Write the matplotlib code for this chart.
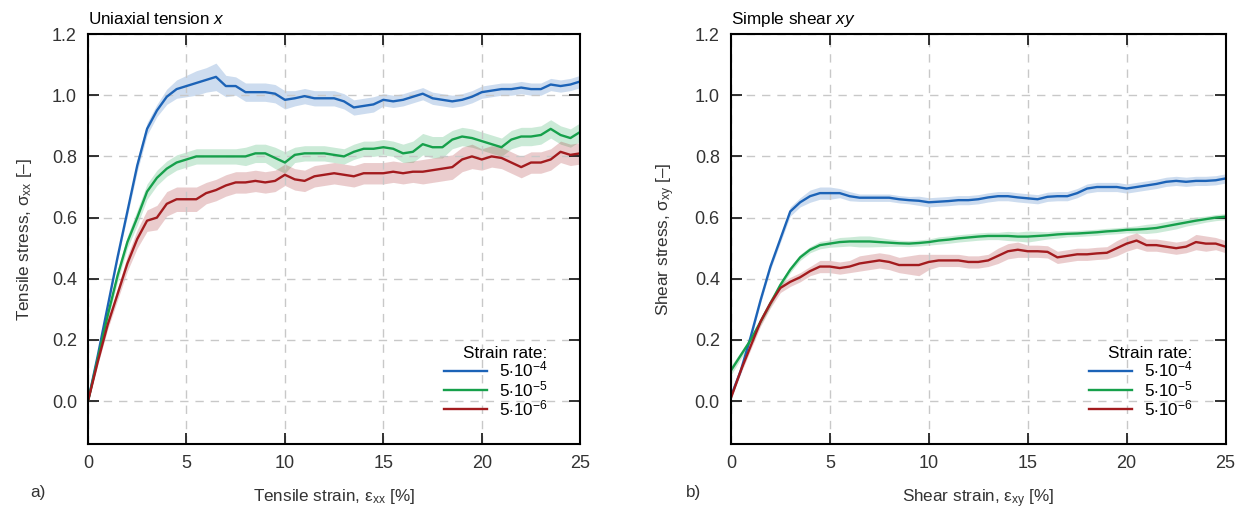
import matplotlib
matplotlib.use('Agg')
import matplotlib.pyplot as plt
import numpy as np

plt.rcParams['font.family'] = ['Liberation Sans', 'DejaVu Sans']
plt.rcParams['mathtext.fontset'] = 'custom'
plt.rcParams['mathtext.rm'] = 'Liberation Sans'
plt.rcParams['mathtext.it'] = 'Liberation Sans:italic'
plt.rcParams['font.size'] = 12.3

# Strain grid [%]
strain = np.arange(0, 25.5, 0.5)

rates = ['5$\\cdot$10$^{\\mathregular{-4}}$', '5$\\cdot$10$^{\\mathregular{-5}}$',
         '5$\\cdot$10$^{\\mathregular{-6}}$']

# Uniaxial tension x (mean curves)
ten_4 = [0, 0.15, 0.31, 0.47, 0.62, 0.77, 0.89, 0.95, 0.995, 1.02, 1.03, 1.04, 1.05,
         1.06, 1.03, 1.03, 1.01, 1.01, 1.01, 1.005, 0.985, 0.99, 0.997, 0.99, 0.99,
         0.99, 0.98, 0.96, 0.965, 0.97, 0.985, 0.98, 0.985, 0.995, 1.005, 0.99, 0.985,
         0.98, 0.985, 0.995, 1.01, 1.015, 1.02, 1.02, 1.025, 1.02, 1.02, 1.035, 1.03,
         1.035, 1.045]
ten_5 = [0, 0.14, 0.28, 0.41, 0.52, 0.6, 0.685, 0.73, 0.76, 0.78, 0.79, 0.8, 0.8,
         0.8, 0.8, 0.8, 0.8, 0.81, 0.81, 0.795, 0.78, 0.805, 0.81, 0.81, 0.81, 0.805,
         0.8, 0.815, 0.825, 0.825, 0.83, 0.825, 0.81, 0.815, 0.84, 0.83, 0.83, 0.855,
         0.865, 0.86, 0.85, 0.84, 0.83, 0.855, 0.865, 0.865, 0.87, 0.89, 0.87, 0.86,
         0.88]
ten_6 = [0, 0.13, 0.25, 0.35, 0.45, 0.53, 0.59, 0.6, 0.645, 0.66, 0.66, 0.66, 0.68,
         0.69, 0.705, 0.715, 0.715, 0.72, 0.715, 0.72, 0.74, 0.725, 0.72, 0.735, 0.74,
         0.745, 0.74, 0.735, 0.745, 0.745, 0.745, 0.75, 0.745, 0.75, 0.75, 0.755, 0.76,
         0.765, 0.79, 0.8, 0.79, 0.8, 0.795, 0.78, 0.765, 0.78, 0.78, 0.79, 0.815,
         0.805, 0.81]

# Uniaxial tension x (band half-widths)
ten_4_sd = [0.005, 0.01, 0.01, 0.01, 0.015, 0.02, 0.02, 0.02, 0.025, 0.03, 0.035,
            0.04, 0.04, 0.045, 0.035, 0.03, 0.03, 0.03, 0.03, 0.03, 0.03, 0.025, 0.025,
            0.025, 0.025, 0.025, 0.025, 0.025, 0.025, 0.025, 0.02, 0.02, 0.02, 0.02,
            0.02, 0.02, 0.02, 0.02, 0.02, 0.02, 0.02, 0.02, 0.02, 0.02, 0.02, 0.02,
            0.02, 0.02, 0.02, 0.02, 0.02]
ten_5_sd = [0.005, 0.01, 0.015, 0.02, 0.02, 0.025, 0.025, 0.025, 0.025, 0.025, 0.025,
            0.025, 0.025, 0.025, 0.025, 0.025, 0.03, 0.03, 0.03, 0.035, 0.035, 0.025,
            0.025, 0.025, 0.025, 0.025, 0.025, 0.025, 0.025, 0.025, 0.025, 0.025, 0.03,
            0.035, 0.035, 0.035, 0.035, 0.03, 0.03, 0.03, 0.03, 0.03, 0.03, 0.03, 0.03,
            0.03, 0.03, 0.03, 0.03, 0.03, 0.03]
ten_6_sd = [0.005, 0.01, 0.015, 0.02, 0.025, 0.03, 0.035, 0.04, 0.04, 0.04, 0.04, 0.04,
            0.035, 0.035, 0.035, 0.035, 0.035, 0.035, 0.035, 0.035, 0.035, 0.035, 0.035,
            0.035, 0.035, 0.035, 0.035, 0.035, 0.035, 0.035, 0.035, 0.035, 0.035, 0.035,
            0.04, 0.04, 0.04, 0.04, 0.04, 0.04, 0.035, 0.035, 0.035, 0.035, 0.035, 0.035,
            0.035, 0.035, 0.035, 0.035, 0.035]

# Simple shear xy (mean curves)
shr_4 = [0.015, 0.1, 0.21, 0.33, 0.44, 0.53, 0.62, 0.65, 0.67, 0.68, 0.68, 0.68, 0.67,
         0.665, 0.665, 0.665, 0.665, 0.66, 0.657, 0.655, 0.65, 0.652, 0.654, 0.657,
         0.657, 0.66, 0.666, 0.67, 0.67, 0.666, 0.663, 0.66, 0.668, 0.67, 0.67, 0.68,
         0.695, 0.7, 0.7, 0.7, 0.695, 0.7, 0.705, 0.71, 0.717, 0.72, 0.717, 0.72, 0.72,
         0.722, 0.728]
shr_5 = [0.1, 0.15, 0.2, 0.26, 0.32, 0.38, 0.43, 0.47, 0.495, 0.51, 0.515, 0.52, 0.522,
         0.522, 0.522, 0.52, 0.518, 0.516, 0.515, 0.517, 0.52, 0.525, 0.528, 0.532,
         0.535, 0.538, 0.54, 0.54, 0.54, 0.538, 0.538, 0.54, 0.542, 0.545, 0.547, 0.548,
         0.55, 0.552, 0.555, 0.557, 0.56, 0.561, 0.563, 0.566, 0.572, 0.578, 0.584,
         0.59, 0.595, 0.6, 0.603]
shr_6 = [0.01, 0.1, 0.18, 0.26, 0.32, 0.37, 0.39, 0.405, 0.425, 0.44, 0.44, 0.435, 0.44,
         0.45, 0.455, 0.46, 0.455, 0.445, 0.445, 0.445, 0.455, 0.46, 0.46, 0.46, 0.455,
         0.455, 0.46, 0.475, 0.49, 0.495, 0.49, 0.49, 0.488, 0.47, 0.475, 0.48, 0.48,
         0.483, 0.485, 0.5, 0.515, 0.525, 0.51, 0.51, 0.505, 0.5, 0.505, 0.52, 0.515,
         0.515, 0.505]

# Simple shear xy (band half-widths)
shr_4_sd = [0.005, 0.008, 0.01, 0.01, 0.01, 0.012, 0.015, 0.015, 0.02, 0.02, 0.02,
            0.015, 0.015, 0.012, 0.012, 0.012, 0.012, 0.012, 0.012, 0.015, 0.015, 0.015,
            0.015, 0.015, 0.015, 0.015, 0.015, 0.015, 0.015, 0.015, 0.015, 0.015, 0.015,
            0.015, 0.015, 0.015, 0.015, 0.015, 0.015, 0.015, 0.015, 0.015, 0.015, 0.015,
            0.015, 0.015, 0.015, 0.015, 0.015, 0.015, 0.015]
shr_5_sd = [0.015, 0.012, 0.01, 0.01, 0.01, 0.01, 0.01, 0.01, 0.01, 0.012, 0.012, 0.015,
            0.015, 0.018, 0.018, 0.015, 0.012, 0.01, 0.01, 0.01, 0.01, 0.012, 0.012,
            0.012, 0.012, 0.012, 0.012, 0.012, 0.015, 0.015, 0.018, 0.015, 0.012, 0.012,
            0.01, 0.01, 0.01, 0.01, 0.01, 0.01, 0.01, 0.012, 0.015, 0.015, 0.015, 0.015,
            0.012, 0.012, 0.01, 0.01, 0.01]
shr_6_sd = [0.005, 0.01, 0.012, 0.015, 0.015, 0.015, 0.015, 0.015, 0.015, 0.02, 0.02,
            0.02, 0.02, 0.025, 0.025, 0.025, 0.025, 0.025, 0.03, 0.035, 0.025, 0.02, 0.02,
            0.02, 0.02, 0.02, 0.02, 0.025, 0.025, 0.025, 0.02, 0.02, 0.02, 0.02, 0.02,
            0.02, 0.02, 0.02, 0.02, 0.025, 0.025, 0.025, 0.02, 0.02, 0.02, 0.02, 0.02,
            0.025, 0.025, 0.02, 0.02]

colors = ['#1c63b7', '#16a04b', '#a31b1e']

fig = plt.figure(figsize=(12.43, 5.08), dpi=100)
ax1 = fig.add_axes([0.0708, 0.126, 0.396, 0.807])
ax2 = fig.add_axes([0.588, 0.126, 0.398, 0.807])

panels = [
    (ax1, [ten_4, ten_5, ten_6], [ten_4_sd, ten_5_sd, ten_6_sd],
     'Uniaxial tension $\\mathit{x}$', 'Tensile strain, $\\mathregular{\\epsilon_{xx}}$ [%]',
     'Tensile stress, $\\mathregular{\\sigma_{xx}}$ [\u2013]', 'a)', 30),
    (ax2, [shr_4, shr_5, shr_6], [shr_4_sd, shr_5_sd, shr_6_sd],
     'Simple shear $\\mathit{xy}$', 'Shear strain, $\\mathregular{\\epsilon_{xy}}$ [%]',
     'Shear stress, $\\mathregular{\\sigma_{xy}}$ [\u2013]', 'b)', 686),
]

for ax, means, sds, title, xlab, ylab, tag, tag_x in panels:
    for m, s, c, lab in zip(means, sds, colors, rates):
        m = np.array(m)
        s = np.array(s)
        ax.fill_between(strain, m - s, m + s, color=c, alpha=0.22, lw=0)
        ax.plot(strain, m, color=c, lw=1.7, label=lab)
    ax.set_xlim(0, 25)
    ax.set_ylim(-0.14, 1.2)
    ax.set_xticks([0, 5, 10, 15, 20, 25])
    ax.set_yticks(np.arange(0, 1.21, 0.2))
    ax.yaxis.set_major_formatter(matplotlib.ticker.FormatStrFormatter('%.1f'))
    ax.grid(True, color='#c8c8c8', ls=(0, (6, 5)), lw=1)
    ax.tick_params(direction='in', length=8, width=1.3, top=True, right=True,
                   colors='#222222', labelcolor='#333333', labelsize=13, pad=8)
    for sp in ax.spines.values():
        sp.set_linewidth(1.5)
    ax.set_title(title, loc='left', pad=7, fontsize=12.3)
    ax.set_xlabel(xlab, labelpad=11, color='#333333')
    ax.set_ylabel(ylab, labelpad=13, color='#333333')
    fig.text(tag_x / 1243, 1 - 492 / 508, tag, ha='left', va='center',
             fontsize=12.3, color='#333333')
    ax.legend(loc='lower right', bbox_to_anchor=(0.947, 0.046), frameon=False,
              title='Strain rate:', alignment='right', handlelength=2.5,
              labelspacing=-0.04, handletextpad=0.7, borderaxespad=0,
              fontsize=12.3, title_fontsize=12.3)

plt.savefig('out.png', dpi=100)
